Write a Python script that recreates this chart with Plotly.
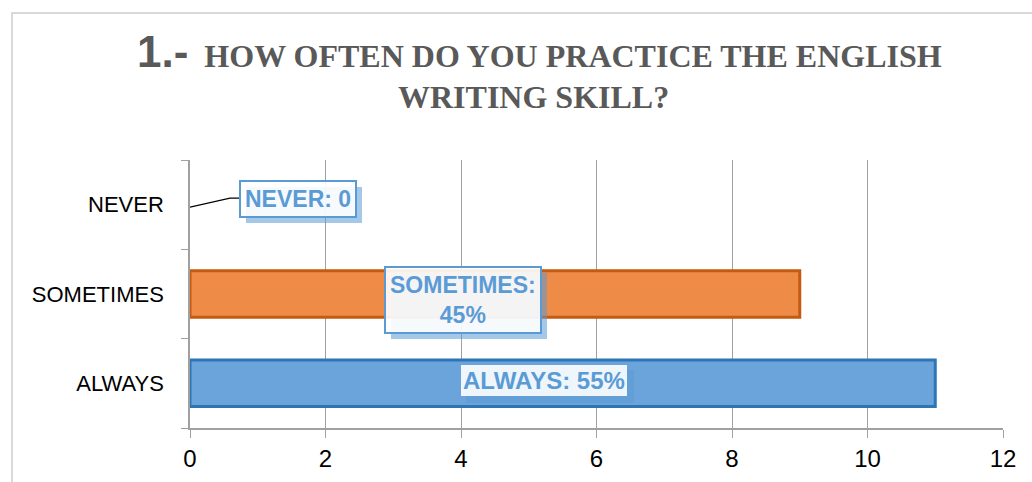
import plotly.graph_objects as go

categories = ["ALWAYS", "SOMETIMES", "NEVER"]
values = [11, 9, 0]
percent_labels = ["55%", "45%", "0"]
x_ticks = [0, 2, 4, 6, 8, 10, 12]

fill_colors = ["#6AA4DA", "#EE8B47", "#6AA4DA"]
line_colors = ["#2E75B6", "#C55A11", "#2E75B6"]
line_widths = [3, 3, 0]

fig = go.Figure()
fig.add_trace(go.Bar(
    y=categories, x=values, orientation="h", width=0.52,
    marker=dict(color=fill_colors, line=dict(color=line_colors, width=line_widths)),
    showlegend=False, hoverinfo="skip",
))

W, H = 1032, 482
L, R, T, B = 190, 1003, 160, 428
def px(xp):
    return (xp - L) / (R - L)
def py(yp):
    return (B - yp) / (B - T)

blue = "#5B9BD5"
ann = []
# title
ann.append(dict(
    xref="paper", yref="paper", x=px(539), y=py(52), xanchor="center", yanchor="middle",
    showarrow=False,
    text="<span style='font-family:Liberation Sans;font-size:44px'><b>1.-</b></span>"
         "&nbsp;&nbsp;"
         "<b>HOW OFTEN DO YOU PRACTICE THE ENGLISH</b>",
    font=dict(family="Liberation Serif", size=32, color="#595959"),
))
ann.append(dict(
    xref="paper", yref="paper", x=px(533), y=py(97), xanchor="center", yanchor="middle",
    showarrow=False, text="<b>WRITING SKILL?</b>",
    font=dict(family="Liberation Serif", size=32, color="#595959"),
))

# data labels (positions in data coords)
label_pos = {
    "NEVER": (1.587, 2.067),
    "SOMETIMES": (4.03, 0.93),
    "ALWAYS": (5.22, 0.03),
}
label_sizes = {"NEVER": 23, "SOMETIMES": 23, "ALWAYS": 24}
for cat, pct in zip(categories, percent_labels):
    xx, yy = label_pos[cat]
    txt = f"{cat}:<br>{pct}" if cat == "SOMETIMES" else f"{cat}: {pct}"
    pad = 4 if cat != "ALWAYS" else 2
    fs = label_sizes[cat]
    # shadow
    ann.append(dict(x=xx, y=yy, xref="x", yref="y", showarrow=False, text=f"<b>{txt}</b>",
                    font=dict(family="Liberation Sans", size=fs, color="rgba(0,0,0,0)"),
                    bgcolor="rgba(91,155,213,0.55)", borderpad=pad, borderwidth=2,
                    bordercolor="rgba(0,0,0,0)", xshift=6, yshift=-6))
    ann.append(dict(x=xx, y=yy, xref="x", yref="y", showarrow=False, text=f"<b>{txt}</b>",
                    font=dict(family="Liberation Sans", size=fs, color=blue),
                    bgcolor="rgba(255,255,255,0.9)", borderpad=pad,
                    borderwidth=2 if cat != "ALWAYS" else 0, bordercolor=blue))

shapes = [
    dict(type="rect", xref="paper", yref="paper", x0=px(12), y0=py(500), x1=px(1045), y1=py(13),
         line=dict(color="#D9D9D9", width=2), layer="below"),
    dict(type="path", xref="x", yref="y",
         path=f"M 0 {2 - 2.5/89} L {(230-190)/67.75} {2 + 6.5/89} L {(241-190)/67.75} {2 + 6.5/89}",
         line=dict(color="black", width=1.2)),
]

fig.update_layout(
    width=W, height=H,
    margin=dict(l=L, r=W - R, t=T, b=H - B, autoexpand=False),
    paper_bgcolor="white", plot_bgcolor="white",
    annotations=ann, shapes=shapes,
    xaxis=dict(range=[0, 12], tickvals=x_ticks, showgrid=True, gridcolor="#A0A0A0", gridwidth=1,
               zeroline=False, showline=True, linecolor="#A0A0A0", linewidth=1.5,
               ticks="outside", ticklen=8, tickcolor="#A0A0A0",
               tickfont=dict(family="Liberation Sans", size=24, color="black"), fixedrange=True),
    yaxis=dict(range=[-0.5, 2.5], categoryorder="array", categoryarray=categories,
               showline=True, linecolor="#A0A0A0", linewidth=1.5,
               ticks="outside", tickson="boundaries", ticklen=7, tickcolor="#A0A0A0",
               showgrid=False, ticklabelstandoff=20,
               tickfont=dict(family="Liberation Sans", size=22, color="black"), fixedrange=True),
)

fig.write_html("out.html", config={"displayModeBar": False},
               post_script="document.body.style.margin='0px';document.body.style.overflow='hidden';")
